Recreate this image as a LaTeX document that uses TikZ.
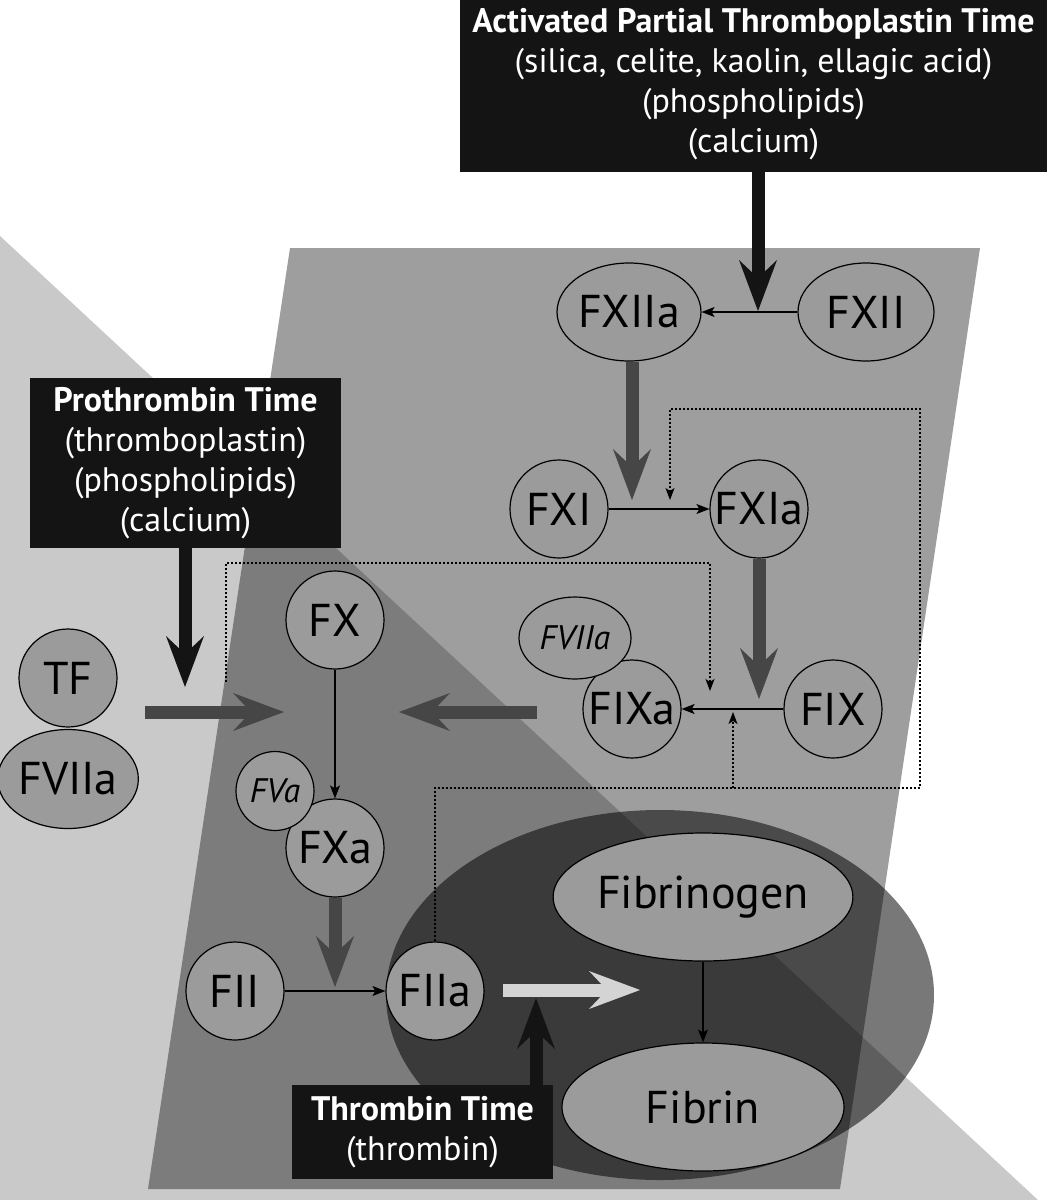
\documentclass[tikz,border=0pt]{standalone}
\usepackage{fontspec}
\setmainfont{PT Sans}
\usetikzlibrary{arrows.meta,shapes.geometric}
\definecolor{boxblack}{HTML}{141414}
\definecolor{nodegray}{HTML}{9B9B9B}
\definecolor{arrowgray}{HTML}{464646}
\definecolor{arrowlight}{HTML}{D4D4D4}
\tikzset{
  factor/.style={circle, draw, fill=nodegray, line width=0.6pt, minimum size=49pt, inner sep=0pt, font=\fontsize{23}{26}\selectfont},
  factorE/.style={ellipse, draw, fill=nodegray, line width=0.6pt, inner sep=0pt, font=\fontsize{23}{26}\selectfont},
  cofactor/.style={factorE, font=\fontsize{17}{20}\selectfont\itshape},
  testbox/.style={fill=boxblack, text=white, align=center, inner sep=0pt, font=\fontsize{17}{20}\selectfont},
  conv/.style={line width=0.65pt, -{Stealth[length=6.5pt, width=5pt, inset=1.5pt]}},
  fb/.style={line width=0.6pt, dash pattern=on 1pt off 1pt, -{Stealth[length=6pt, width=4.5pt, inset=1.5pt]}},
  bigarrow/.style={line width=6.5pt, -{Stealth[length=25.5pt, width=19pt, inset=9pt, line width=0pt]}},
}
\begin{document}
\begin{tikzpicture}[x=0.5pt, y=-0.5pt]
  \useasboundingbox (0,0) rectangle (1057,1200);
  \fill[white] (0,0) rectangle (1057,1200);
  \begin{scope}
      \fill[black, opacity=0.21] (0,236) -- (1038,1200) -- (0,1200) -- cycle; % extrinsic
      \fill[black, opacity=0.38] (290,248) -- (980,248) -- (840,1189) -- (148,1189) -- cycle; % intrinsic
      \fill[black, opacity=0.53] (660,995) ellipse (137pt and 92.5pt); % common
  \end{scope}
  % test boxes
  \node[testbox, minimum width=293.5pt, minimum height=88pt] (APTT) at(753.5,84){\textbf{Activated Partial Thromboplastin Time}\\(silica, celite, kaolin, ellagic acid)\\(phospholipids)\\(calcium)};
  \node[testbox, minimum width=155.5pt, minimum height=85pt] (PT) at(185.5,463){\textbf{Prothrombin Time}\\(thromboplastin)\\(phospholipids)\\(calcium)};
  \node[testbox, minimum width=130.5pt, minimum height=47pt] (TT) at(422.5,1132){\textbf{Thrombin Time}\\(thrombin)};
  % factors
  \node[factorE, minimum width=67pt, minimum height=49pt] (FXIIa) at(629,312){FXIIa};
  \node[factorE, minimum width=68pt, minimum height=49pt] (FXII) at(866,312){FXII};
  \node[factor] (FXI) at(559,509){FXI};
  \node[factor] (FXIa) at(759,509){FXIa};
  \node[factor] (FIXa) at(632,709){FIXa};
  \node[cofactor, minimum width=56pt, minimum height=41pt] (FVIIaB) at(575,638){FVIIa};
  \node[factor] (FIX) at(833,709){FIX};
  \node[factor] (FX) at(335,620){FX};
  \node[factor] (FXa) at(335,848){FXa};
  \node[cofactor, minimum width=39pt, minimum height=39.5pt] (FVa) at(275,791){FVa};
  \node[factor] (FII) at(235,991){FII};
  \node[factor] (FIIa) at(435,991){FIIa};
  \node[factor] (TF) at(68,678){TF};
  \node[factorE, minimum width=67.5pt, minimum height=49.5pt] (FVIIa) at(68,779){FVIIa};
  \node[factorE, minimum width=141pt, minimum height=64pt] (Fibrinogen) at(703,897){Fibrinogen};
  \node[factorE, minimum width=141pt, minimum height=64pt] (Fibrin) at(703,1107){Fibrin};
  % arrow ends
  \coordinate (tipA) at(758,311);
  \coordinate (tipB) at(632,500);
  \coordinate (tipC) at(759,699);
  \coordinate (tipD) at(185,687);
  \coordinate (tipE) at(335,987);
  \coordinate (tipF) at(536,998);
  \coordinate (tfL) at(145,712);
  \coordinate (tfR) at(284,712);
  \coordinate (ixL) at(537,712);
  \coordinate (ixR) at(399,712);
  \coordinate (iiL) at(503,990);
  \coordinate (iiR) at(640,990);
  \coordinate (fbBR) at(920,788);
  \coordinate (fbTR) at(920,409);
  \coordinate (fbXI) at(670,500);
  \coordinate (fbIX) at(733,712);
  \coordinate (fbPT) at(226,682);
  \coordinate (fbTL) at(710,563);
  \coordinate (fbIXa) at(710,691);
  % conversions
  \draw[conv] (FXII) -- (FXIIa);
  \draw[conv] (FXI) -- (FXIa);
  \draw[conv] (FIX) -- (FIXa);
  \draw[conv] (FX) -- (FXa);
  \draw[conv] (FII) -- (FIIa);
  \draw[conv] (Fibrinogen) -- (Fibrin);
  % feedback
  \draw[fb] (FIIa.north) |- (fbBR) -- (fbTR) -| (fbXI);
  \draw[fb] (fbIX |- fbBR) -- (fbIX);
  \draw[fb] (fbPT) |- (fbTL) -- (fbIXa);
  % big arrows
  \draw[bigarrow, boxblack] (APTT.south -| tipA) -- (tipA);
  \draw[bigarrow, boxblack] (PT.south -| tipD) -- (tipD);
  \draw[bigarrow, boxblack] (TT.north -| tipF) -- (tipF);
  \draw[bigarrow, arrowgray] (FXIIa.south -| tipB) -- (tipB);
  \draw[bigarrow, arrowgray] (FXIa.south) -- (tipC);
  \draw[bigarrow, arrowgray] (FXa.south) -- (tipE);
  \draw[bigarrow, arrowgray] (tfL) -- (tfR);
  \draw[bigarrow, arrowgray] (ixL) -- (ixR);
  \draw[bigarrow, arrowlight] (iiL) -- (iiR);
\end{tikzpicture}
\end{document}
